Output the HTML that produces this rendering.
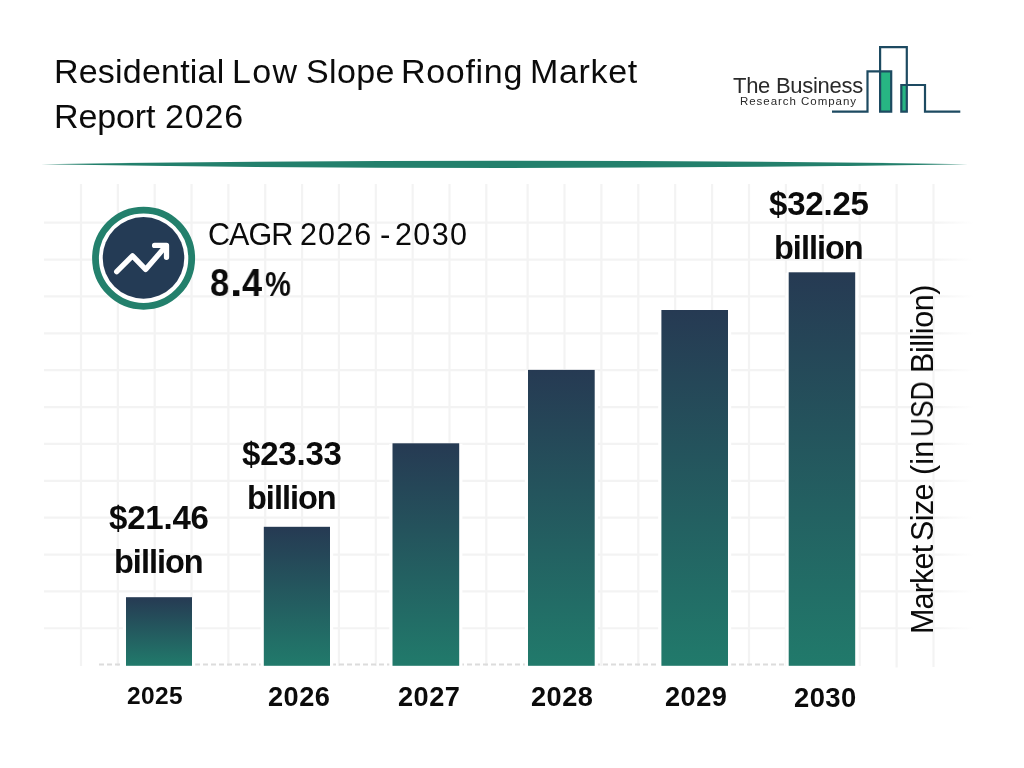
<!DOCTYPE html>
<html>
<head>
<meta charset="utf-8">
<title>Residential Low Slope Roofing Market Report 2026</title>
<style>
html,body{margin:0;padding:0;background:#ffffff;}
body{width:1024px;height:768px;position:relative;overflow:hidden;font-family:"Liberation Sans",sans-serif;color:#0b0b0b;}
#bg{position:absolute;left:0;top:0;width:1024px;height:768px;}
.t{position:absolute;white-space:nowrap;line-height:1;margin:0;padding:0;transform-origin:0 0;will-change:transform;}
.tt{font-size:34px;}
.cg{font-size:30.5px;}
.pc{font-size:38px;}
.yv{font-size:30.5px;}
.b{font-weight:bold;}
</style>
</head>
<body>
<svg id="bg" width="1024" height="768" viewBox="0 0 1024 768">
  <defs>
    <linearGradient id="bar" x1="0" y1="0" x2="0" y2="1">
      <stop offset="0" stop-color="#263a53"/>
      <stop offset="1" stop-color="#217a6b"/>
    </linearGradient>
    <linearGradient id="fadeR" gradientUnits="userSpaceOnUse" x1="44" y1="0" x2="974" y2="0">
      <stop offset="0" stop-color="#f3f3f3"/>
      <stop offset="0.955" stop-color="#f3f3f3"/>
      <stop offset="1" stop-color="#ffffff"/>
    </linearGradient>
  </defs>
  <rect x="0" y="0" width="1024" height="768" fill="#ffffff"/>

  <!-- grid -->
  <g id="grid" stroke="#f3f3f3" stroke-width="2.2" fill="none">
    <!-- vertical -->
    <path d="M81 184V666 M117.85 184V666 M154.7 184V666 M191.55 184V666 M228.4 184V666 M265.25 184V666 M302.1 184V666 M338.95 184V666 M375.8 184V666 M412.65 184V666 M449.5 184V666 M486.3 184V666"/>
    <path d="M527.6 184V666 M564.5 184V666 M601.4 184V666 M638.3 184V666 M675.2 184V666 M712.1 184V666 M749 184V666 M785.9 184V666 M822.8 184V666 M859.7 184V666 M896.6 184V667.5 M933.5 184V667"/>
    <!-- horizontal -->
    <path stroke="url(#fadeR)" d="M44 222.70H973 M44 259.57H973 M44 296.44H973 M44 333.31H973 M44 370.18H973 M44 407.05H973 M44 443.92H973 M44 480.79H973 M44 517.66H973 M44 554.53H973 M44 591.40H973 M44 628.27H973"/>
  </g>
  <!-- dashed baseline -->
  <path d="M99 664.4H788" stroke="#dcdcdc" stroke-width="2" stroke-dasharray="5 3" fill="none"/>

  <!-- header rule -->
  <path d="M41 164.3 Q505 157 968 164.3 Q505 171.6 41 164.3 Z" fill="#23806c"/>

  <!-- bars (white halo + gradient) -->
  <g fill="#ffffff">
    <rect x="122.8" y="597.7" width="72.4" height="69.3"/>
    <rect x="260.6" y="527.3" width="72.6" height="139.7"/>
    <rect x="389.3" y="443.8" width="73.1" height="223.2"/>
    <rect x="524.8" y="370.4" width="73.1" height="296.6"/>
    <rect x="658.2" y="310.5" width="73.0" height="356.5"/>
    <rect x="785.5" y="272.8" width="72.9" height="394.2"/>
  </g>
  <g fill="url(#bar)">
    <rect x="126" y="597.2" width="66" height="68.6"/>
    <rect x="263.8" y="526.8" width="66.2" height="139"/>
    <rect x="392.5" y="443.3" width="66.7" height="222.5"/>
    <rect x="528" y="369.9" width="66.7" height="295.9"/>
    <rect x="661.4" y="310" width="66.6" height="355.8"/>
    <rect x="788.7" y="272.3" width="66.5" height="393.5"/>
  </g>

  <!-- CAGR icon -->
  <circle cx="143.6" cy="258.2" r="48.1" fill="#ffffff" stroke="#23806c" stroke-width="6.8"/>
  <circle cx="143.5" cy="257.9" r="40.8" fill="#243b55"/>
  <g stroke="#ffffff" stroke-width="5.3" fill="none" stroke-linecap="round" stroke-linejoin="round">
    <path d="M116.7 271.7 L132.5 255.8 L145.6 269.4 L166.2 245.8"/>
    <path d="M154.6 245.4 H166.5 V257.3"/>
  </g>

  <!-- logo -->
  <g id="logo">
    <rect x="880.1" y="71.3" width="11.1" height="40.4" fill="#27b583"/>
    <rect x="901.3" y="85" width="5.5" height="26.7" fill="#27b583"/>
    <g stroke="#1d4a61" stroke-width="2.2" fill="none" stroke-linejoin="miter">
      <path d="M832 111.7 H867.5 V71.3 H891.2 V111.7 H880.1 V47.1 H906.8 V111.7 H901.3 V85 H925 V111.7 H960.3"/>
    </g>
  </g>
</svg>

<!-- Title -->
<div id="t1">
<div class="t tt" style="left:54.3px;top:54px;letter-spacing:0.2px;">Residential</div>
<div class="t tt" style="left:232.2px;top:54px;letter-spacing:1.4px;">Low</div>
<div class="t tt" style="left:305.8px;top:54px;letter-spacing:0.375px;">Slope</div>
<div class="t tt" style="left:401.1px;top:54px;letter-spacing:0.7px;">Roofing</div>
<div class="t tt" style="left:529.6px;top:54px;letter-spacing:0.68px;">Market</div>
</div>
<div id="t2">
<div class="t tt" style="left:54.2px;top:99px;letter-spacing:-0.12px;">Report</div>
<div class="t tt" style="left:165.3px;top:99px;letter-spacing:0.817px;">2026</div>
</div>

<!-- Logo text -->
<div class="t" id="lg1" style="left:732.8px;top:74.6px;font-size:22px;letter-spacing:-0.28px;color:#2a2a2a;">The Business</div>
<div class="t" id="lg2" style="left:739.6px;top:95.7px;font-size:11.5px;letter-spacing:0.96px;color:#2a2a2a;">Research Company</div>

<!-- CAGR -->
<div id="cagr">
<div class="t cg" style="left:208.4px;top:218.7px;letter-spacing:-0.933px;">CAGR</div>
<div class="t cg" style="left:299.7px;top:218.7px;letter-spacing:1.133px;">2026</div>
<div class="t cg" style="left:379.5px;top:218.7px;letter-spacing:0px;transform:scaleX(1.025);">-</div>
<div class="t cg" style="left:395.4px;top:218.7px;letter-spacing:1.4px;">2030</div>
</div>
<div id="pct">
<div class="t b pc" style="left:210.4px;top:264.3px;transform:scaleX(0.9105);">8</div>
<div class="t b pc" style="left:230.4px;top:264.3px;transform:scaleX(1.18);">.</div>
<div class="t b pc" style="left:242.1px;top:264.3px;transform:scaleX(0.95);">4</div>
<div class="t b pc" style="left:264.6px;top:267.3px;font-size:34.5px;transform:scaleX(0.8414);">%</div>
</div>

<!-- Value labels -->
<div class="t b" id="v1a" style="left:108.9px;top:501.3px;font-size:33px;letter-spacing:-0.2px;">$21.46</div>
<div class="t b" id="v1b" style="left:114px;top:545.8px;font-size:32.5px;letter-spacing:-1px;">billion</div>
<div class="t b" id="v2a" style="left:241.7px;top:437.3px;font-size:33px;letter-spacing:-0.2px;">$23.33</div>
<div class="t b" id="v2b" style="left:247px;top:481.6px;font-size:32.5px;letter-spacing:-1px;">billion</div>
<div class="t b" id="v3a" style="left:768.6px;top:187.4px;font-size:33px;letter-spacing:-0.2px;">$32.25</div>
<div class="t b" id="v3b" style="left:774px;top:232.3px;font-size:32.5px;letter-spacing:-1px;">billion</div>

<!-- Year labels -->
<div class="t b" id="y1" style="left:127.3px;top:683.8px;font-size:24.5px;letter-spacing:0.35px;">2025</div>
<div class="t b" id="y2" style="left:268px;top:682.7px;font-size:27.2px;letter-spacing:0.45px;">2026</div>
<div class="t b" id="y3" style="left:397.5px;top:682.7px;font-size:27.2px;letter-spacing:0.45px;">2027</div>
<div class="t b" id="y4" style="left:531.2px;top:682.9px;font-size:27.2px;letter-spacing:0.45px;">2028</div>
<div class="t b" id="y5" style="left:664.6px;top:682.9px;font-size:27.2px;letter-spacing:0.45px;">2029</div>
<div class="t b" id="y6" style="left:793.9px;top:683.6px;font-size:27.4px;letter-spacing:0.45px;">2030</div>

<!-- Y axis label -->
<div id="yl">
<div class="t yv" style="left:906.6px;top:634.4px;letter-spacing:-0.82px;transform:rotate(-90deg);">Market</div>
<div class="t yv" style="left:906.6px;top:541.0px;letter-spacing:-0.6px;transform:rotate(-90deg);">Size</div>
<div class="t yv" style="left:906.6px;top:475.1px;letter-spacing:0.15px;transform:rotate(-90deg);">(in</div>
<div class="t yv" style="left:906.6px;top:437.4px;letter-spacing:0px;transform:rotate(-90deg) scaleX(0.8639);">USD</div>
<div class="t yv" style="left:906.6px;top:372.8px;letter-spacing:-0.457px;transform:rotate(-90deg);">Billion)</div>
</div>
</body>
</html>
